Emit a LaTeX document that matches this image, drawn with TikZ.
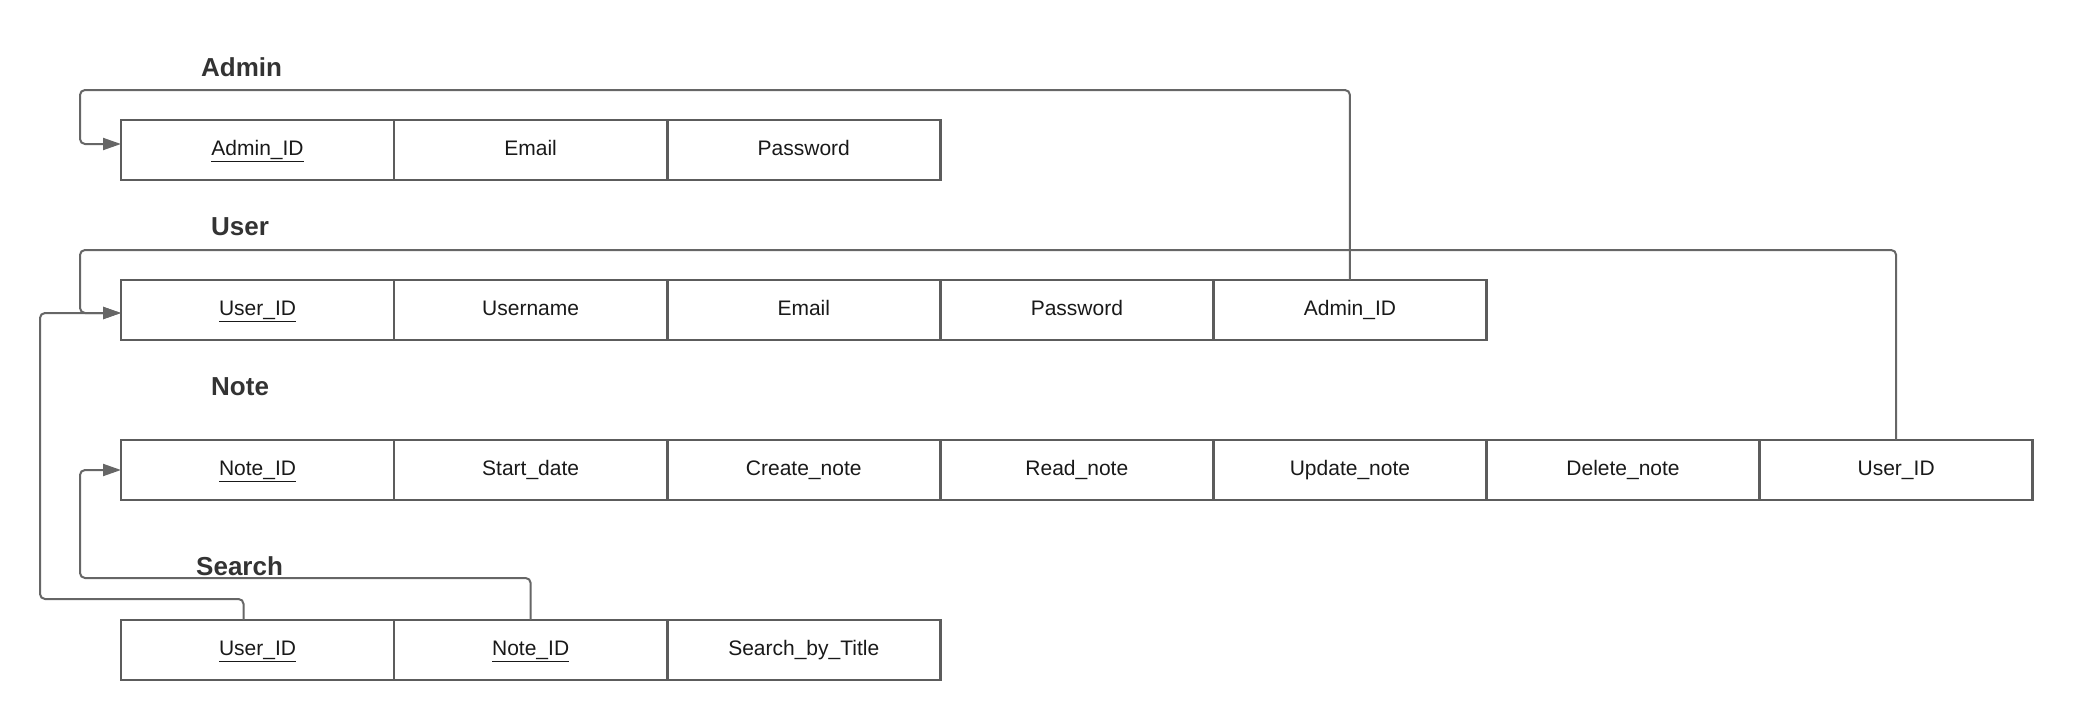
\documentclass[tikz,border=0pt]{standalone}
\usepackage{fontspec}
\setmainfont{Liberation Sans}
\usetikzlibrary{arrows.meta}
\definecolor{linegray}{HTML}{5C5C5C}
\definecolor{conngray}{HTML}{666666}
\definecolor{titlegray}{HTML}{333333}
\tikzset{
  cell/.style={draw=linegray, line width=2.6pt, minimum width=273.1pt, minimum height=60pt,
    inner sep=0pt, outer sep=0pt, text height=15pt, text depth=4pt, text=black!90,
    font=\fontsize{21}{25}\selectfont},
  title/.style={anchor=base west, inner sep=0pt, text=titlegray, font=\fontsize{26}{30}\selectfont\bfseries},
  conn/.style={draw=conngray, line width=2pt, rounded corners=5pt},
  arr/.style={conn, -{Triangle[length=18pt,width=12pt]}},
}
\begin{document}
\begin{tikzpicture}[x=1pt,y=-1pt]
\useasboundingbox (0,0) rectangle (2073,720);
% titles
\node[title] (tadmin) at (201,76) {Admin};
\node[title] (tuser) at (211,235) {User};
\node[title] (tnote) at (211,395) {Note};
\node[title] (tsearch) at (196,575) {Search};
% Admin
\node[cell] (a1) at (257.55,150) {\underline{Admin\_ID}};
\node[cell] (a2) at (530.65,150) {Email};
\node[cell] (a3) at (803.75,150) {Password};
% User
\node[cell] (u1) at (257.55,310) {\underline{User\_ID}};
\node[cell] (u2) at (530.65,310) {Username};
\node[cell] (u3) at (803.75,310) {Email};
\node[cell] (u4) at (1076.85,310) {Password};
\node[cell] (u5) at (1349.95,310) {Admin\_ID};
% Note
\node[cell] (n1) at (257.55,470) {\underline{Note\_ID}};
\node[cell] (n2) at (530.65,470) {Start\_date};
\node[cell] (n3) at (803.75,470) {Create\_note};
\node[cell] (n4) at (1076.85,470) {Read\_note};
\node[cell] (n5) at (1349.95,470) {Update\_note};
\node[cell] (n6) at (1623.05,470) {Delete\_note};
\node[cell] (n7) at (1896.15,470) {User\_ID};
% Search
\node[cell] (s1) at (257.55,650) {\underline{User\_ID}};
\node[cell] (s2) at (530.65,650) {\underline{Note\_ID}};
\node[cell] (s3) at (803.75,650) {Search\_by\_Title};
% connectors
\coordinate (ca) at (80,90);
\coordinate (cu) at (80,250);
\coordinate (cs1) at (40,599);
\coordinate (cs2) at (80,578);
\draw[arr] (u5.north) |- (ca) |- ([yshift=6pt]a1.west);
\draw[arr] (n7.north) |- (cu) |- ([yshift=-3pt]u1.west);
\draw[arr] ([xshift=-14pt]s1.north) |- (cs1) |- ([yshift=-3pt]u1.west);
\draw[arr] (s2.north) |- (cs2) |- (n1.west);
\end{tikzpicture}
\end{document}
